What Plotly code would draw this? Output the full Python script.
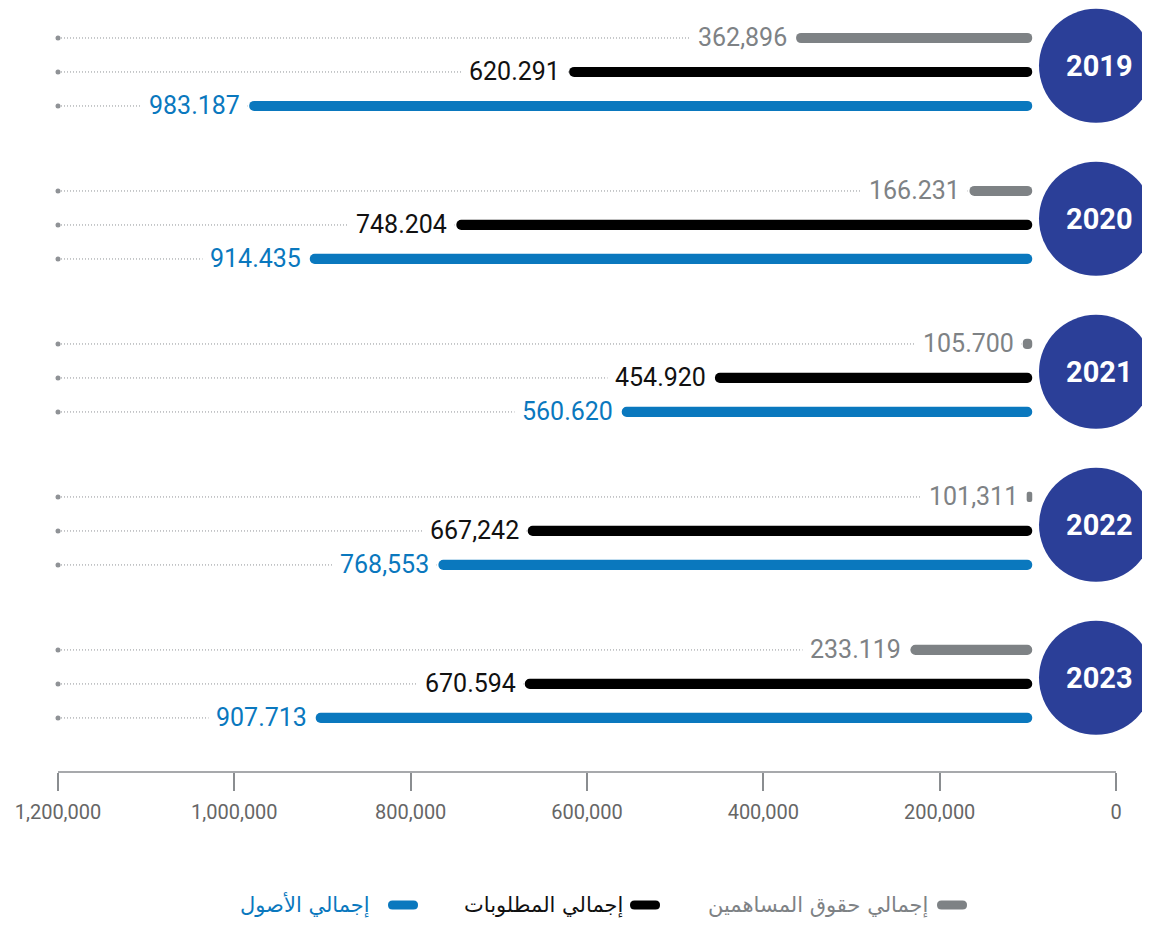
import plotly.graph_objects as go

# ---------------- data ----------------
years = ["2019", "2020", "2021", "2022", "2023"]
equity = [362896, 166231, 105700, 101311, 233119]
equity_labels = ["362,896", "166.231", "105.700", "101,311", "233.119"]
liabilities = [620291, 748204, 454920, 667242, 670594]
liabilities_labels = ["620.291", "748.204", "454.920", "667,242", "670.594"]
assets = [983187, 914435, 560620, 768553, 907713]
assets_labels = ["983.187", "914.435", "560.620", "768,553", "907.713"]
series_names = ["إجمالي حقوق المساهمين", "إجمالي المطلوبات", "إجمالي الأصول"]
tick_values = [0, 200000, 400000, 600000, 800000, 1000000, 1200000]

# ---------------- style ----------------
COLORS = ["#7e8285", "#000000", "#0a78be"]
LABEL_COLORS = ["#7e8285", "#111111", "#0a78be"]
CIRCLE = "#2b3f98"
AXIS_GREY = "#8a8d90"
DOT_GREY = "#8f9296"
BASE = 95000
XMAX = 1200000
NUM_FONT = "Roboto, DejaVu Sans, sans-serif"
AR_FONT = "DejaVu Sans, Noto Sans, sans-serif"

series_vals = [equity, liabilities, assets]
series_labels = [equity_labels, liabilities_labels, assets_labels]


def yv(g, r):
    return -(g * 4.5 + r)


fig = go.Figure()

# dotted guide lines
for r, vals in enumerate(series_vals):
    xs, ys = [], []
    for g, v in enumerate(vals):
        xs += [XMAX, v, None]
        ys += [yv(g, r), yv(g, r), None]
    fig.add_trace(go.Scatter(x=xs, y=ys, mode="lines",
                             line=dict(color=DOT_GREY, width=1, dash="1px,2px"),
                             hoverinfo="skip", showlegend=False))

# dots at the left end
dx, dy = [], []
for r in range(3):
    for g in range(len(years)):
        dx.append(XMAX)
        dy.append(yv(g, r))
fig.add_trace(go.Scatter(x=dx, y=dy, mode="markers",
                         marker=dict(color=DOT_GREY, size=5),
                         hoverinfo="skip", showlegend=False))

# bars
for r, vals in enumerate(series_vals):
    fig.add_trace(go.Bar(
        x=[v - BASE for v in vals], base=BASE,
        y=[yv(g, r) for g in range(len(years))],
        orientation="h", width=0.3,
        marker=dict(color=COLORS[r], cornerradius=5, line=dict(width=0)),
        name=series_names[r], showlegend=False, hoverinfo="skip"))

annotations = []
# value labels
for r, vals in enumerate(series_vals):
    for g, v in enumerate(vals):
        annotations.append(dict(
            x=v, y=yv(g, r), xref="x", yref="y", text=series_labels[r][g],
            showarrow=False, xanchor="right", yanchor="middle", xshift=-1,
            bgcolor="white", borderpad=7,
            font=dict(family=NUM_FONT, size=25, color=LABEL_COLORS[r])))

shapes = []
# year circles
CX = 22700
for g, yr in enumerate(years):
    cy = yv(g, 1) + 0.18
    shapes.append(dict(type="circle", xref="x", yref="y",
                       xsizemode="pixel", ysizemode="pixel",
                       xanchor=CX, yanchor=cy, x0=-57, x1=57, y0=-57, y1=57,
                       fillcolor=CIRCLE, line=dict(width=0), layer="above"))
    annotations.append(dict(x=CX, y=cy, xref="x", yref="y", text="<b>%s</b>" % yr,
                            showarrow=False, xanchor="center", yanchor="middle",
                            xshift=4,
                            font=dict(family=NUM_FONT, size=29, color="white")))

# axis baseline
shapes.append(dict(type="line", xref="x", yref="paper", x0=0, x1=XMAX, y0=0, y1=0,
                   line=dict(color=AXIS_GREY, width=1.5)))

# legend (right-to-left)
W, PLOT_H, OFF = 1150, 764, 8
LEG_Y = (PLOT_H - (905 - OFF)) / PLOT_H
pill_px = [952, 645, 403]
text_right_px = [930, 625, 372]
for i in range(3):
    shapes.append(dict(
        type="path", xref="paper", yref="paper", xsizemode="pixel", ysizemode="pixel",
        xanchor=(pill_px[i] - OFF) / W, yanchor=LEG_Y,
        path="M -10.5,-4.5 L 10.5,-4.5 Q 15,-4.5 15,0 Q 15,4.5 10.5,4.5 "
             "L -10.5,4.5 Q -15,4.5 -15,0 Q -15,-4.5 -10.5,-4.5 Z",
        fillcolor=COLORS[i], line=dict(width=0)))
    annotations.append(dict(
        x=(text_right_px[i] - OFF) / W, y=LEG_Y, xref="paper", yref="paper",
        text=series_names[i], showarrow=False, xanchor="right", yanchor="middle",
        font=dict(family=AR_FONT, size=21, color=LABEL_COLORS[i])))

fig.update_layout(
    width=1150, height=926,
    margin=dict(l=0, r=0, t=0, b=162),
    paper_bgcolor="white", plot_bgcolor="white",
    showlegend=False, barmode="overlay",
    xaxis=dict(range=[1256710, -47637], tickvals=tick_values, tickformat=",",
               showgrid=False, zeroline=False, showline=False,
               ticks="outside", ticklen=18, tickwidth=1.5, tickcolor=AXIS_GREY,
               ticklabelstandoff=4,
               tickfont=dict(family=NUM_FONT, size=20, color="#666666"),
               fixedrange=True),
    yaxis=dict(range=[-21.59, 0.882], visible=False, fixedrange=True),
    shapes=shapes, annotations=annotations,
)

fig.write_html("out.html")
